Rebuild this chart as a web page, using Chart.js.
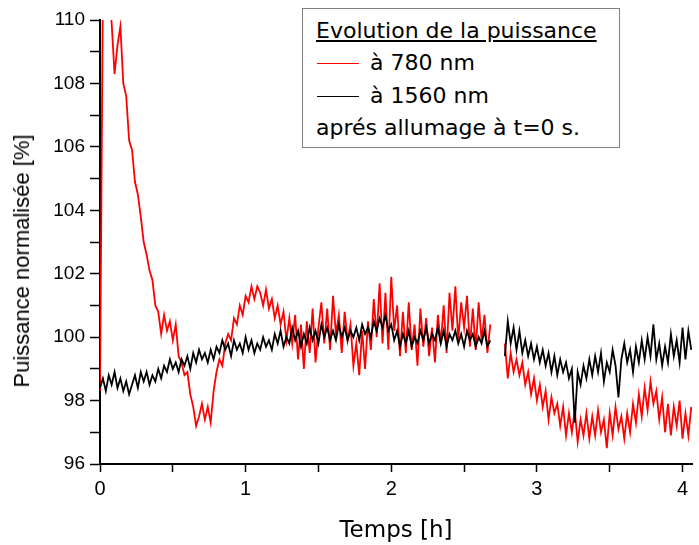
<!DOCTYPE html>
<html>
<head>
<meta charset="utf-8">
<script src="https://cdn.jsdelivr.net/npm/chart.js@4.4.1/dist/chart.umd.min.js"></script>
<style>
  body { margin: 0; background: #fff; }
  #wrap { position: relative; width: 699px; height: 545px; }
  #ytitle {
    position: absolute; left: 22px; top: 261px;
    transform: translate(-50%, -50%) rotate(-90deg);
    font: 22px "Liberation Sans", Arial, sans-serif; white-space: nowrap; color: #000;
  }
  #legendbox {
    position: absolute; left: 302px; top: 8px; width: 316px; height: 138px;
    border: 1px solid #808080; background: #fff;
    font: 22px "DejaVu Sans", sans-serif; color: #000;
  }
  #legendbox div { position: absolute; white-space: nowrap; }
  .swatch { position: absolute; left: 14px; width: 42px; height: 0; border-top: 1.5px solid; }
</style>
</head>
<body>
<div id="wrap">
  <canvas id="chart" width="699" height="545"></canvas>
  <div id="ytitle">Puissance normalisée [%]</div>
  <div id="legendbox">
    <div style="left:13px;top:9px;text-decoration:underline;">Evolution de la puissance</div>
    <span class="swatch" style="top:54px;border-color:#ff0000;"></span>
    <div style="left:67px;top:41px;">à 780 nm</div>
    <span class="swatch" style="top:87px;border-color:#000;"></span>
    <div style="left:67px;top:74px;">à 1560 nm</div>
    <div style="left:13px;top:106px;">aprés allumage à t=0 s.</div>
  </div>
</div>
<script>
// time in hours
var times = [
  0, 0.02, 0.04, 0.06, 0.08, 0.10, 0.12, 0.14, 0.16, 0.18,
  0.20, 0.22, 0.24, 0.26, 0.28, 0.30, 0.32, 0.34, 0.36, 0.38,
  0.40, 0.42, 0.44, 0.46, 0.48, 0.50, 0.52, 0.54, 0.56, 0.58,
  0.60, 0.62, 0.64, 0.66, 0.68, 0.70, 0.72, 0.74, 0.76, 0.78,
  0.80, 0.82, 0.84, 0.86, 0.88, 0.90, 0.92, 0.94, 0.96, 0.98,
  1.00, 1.02, 1.04, 1.06, 1.08, 1.10, 1.12, 1.14, 1.16, 1.18,
  1.20, 1.22, 1.24, 1.26, 1.28, 1.30, 1.32, 1.34, 1.36, 1.38,
  1.40, 1.42, 1.44, 1.46, 1.48, 1.50, 1.52, 1.54, 1.56, 1.58,
  1.60, 1.62, 1.64, 1.66, 1.68, 1.70, 1.72, 1.74, 1.76, 1.78,
  1.80, 1.82, 1.84, 1.86, 1.88, 1.90, 1.92, 1.94, 1.96, 1.98,
  2.00, 2.02, 2.04, 2.06, 2.08, 2.10, 2.12, 2.14, 2.16, 2.18,
  2.20, 2.22, 2.24, 2.26, 2.28, 2.30, 2.32, 2.34, 2.36, 2.38,
  2.40, 2.42, 2.44, 2.46, 2.48, 2.50, 2.52, 2.54, 2.56, 2.58,
  2.60, 2.62, 2.64, 2.66, 2.68, 2.70, 2.72, 2.74, 2.76, 2.78,
  2.80, 2.82, 2.84, 2.86, 2.88, 2.90, 2.92, 2.94, 2.96, 2.98,
  3.00, 3.02, 3.04, 3.06, 3.08, 3.10, 3.12, 3.14, 3.16, 3.18,
  3.20, 3.22, 3.24, 3.26, 3.28, 3.30, 3.32, 3.34, 3.36, 3.38,
  3.40, 3.42, 3.44, 3.46, 3.48, 3.50, 3.52, 3.54, 3.56, 3.58,
  3.60, 3.62, 3.64, 3.66, 3.68, 3.70, 3.72, 3.74, 3.76, 3.78,
  3.80, 3.82, 3.84, 3.86, 3.88, 3.90, 3.92, 3.94, 3.96, 3.98,
  4.00, 4.02, 4.04, 4.06
];

// puissance normalisée [%] at 780 nm
var p780 = [
  98.3, 111.0, 111.5, 110.8, 109.9, 108.3, 109.2, 109.8, 108.0, 107.6,
  106.2, 105.9, 104.9, 104.5, 103.8, 103.0, 102.6, 102.1, 101.8, 101.0,
  100.8, 100.1, 100.7, 100.2, 100.5, 99.9, 100.4, 99.4, 99.2, 98.8,
  98.9, 98.2, 97.8, 97.2, 97.5, 97.9, 97.4, 97.8, 97.3, 98.3,
  98.9, 99.3, 99.1, 99.8, 100.1, 99.9, 100.6, 100.4, 101.0, 100.7,
  101.3, 101.1, 101.6, 101.2, 101.6, 101.4, 101.0, 101.5, 100.9, 101.2,
  100.6, 101.0, 100.4, 100.8, 99.9, 100.6, 99.8, 100.7, 99.3, 100.4,
  99.0, 100.5, 99.5, 100.9, 99.2, 100.3, 101.1, 99.8, 100.9, 99.6,
  101.3, 100.1, 100.7, 99.5, 100.8, 99.9, 100.4, 99.1, 99.8, 98.8,
  100.2, 99.0, 100.5, 99.6, 101.2, 100.0, 101.7, 99.8, 101.4, 99.6,
  101.9, 100.2, 101.0, 99.4, 100.8, 99.5, 101.1, 99.6, 100.4, 99.1,
  100.9, 99.7, 100.6, 99.4, 100.3, 99.2, 100.7, 99.8, 101.0, 99.5,
  101.4, 100.2, 101.6, 99.9, 101.1, 100.3, 101.3, 99.7, 100.9, 99.6,
  101.1, 99.9, 100.7, 99.5, 100.4, null, null, null, null, 99.8,
  98.7, 99.5, 98.9, 99.3, 98.8, 99.2, 98.5, 98.9, 98.2, 98.7,
  98.0, 98.5, 97.8, 98.3, 97.4, 98.1, 97.6, 97.9, 97.2, 97.8,
  96.9, 97.6, 97.0, 97.7, 96.7, 97.4, 96.9, 97.6, 96.8, 97.5,
  96.9, 97.7, 97.0, 97.4, 96.5, 97.6, 96.9, 97.8, 97.1, 97.5,
  96.8, 97.6, 97.0, 97.9, 97.3, 98.2, 97.5, 98.4, 97.7, 98.6,
  97.9, 98.3, 97.4, 98.1, 97.0, 97.9, 96.9, 97.8, 97.2, 98.0,
  96.8, 97.6, 96.9, 97.8
];

// puissance normalisée [%] at 1560 nm
var p1560 = [
  98.4, 98.7, 98.3, 98.8, 98.5, 98.9, 98.4, 98.7, 98.3, 98.6,
  98.2, 98.5, 98.8, 98.4, 98.9, 98.6, 98.9, 98.5, 98.8, 98.6,
  99.0, 98.7, 99.1, 98.9, 99.3, 99.0, 99.2, 98.9, 99.3, 99.1,
  99.4, 99.0, 99.5, 99.2, 99.6, 99.3, 99.5, 99.2, 99.6, 99.3,
  99.7, 99.5, 99.9, 99.6, 99.8, 99.4, 99.9, 99.6, 99.8, 99.5,
  100.0, 99.6, 99.9, 99.5, 99.8, 99.6, 100.0, 99.7, 99.9, 99.6,
  100.1, 99.8, 100.2, 99.7, 100.0, 99.8, 100.3, 99.9, 100.2, 99.7,
  100.1, 99.8, 100.3, 99.9, 100.2, 99.8, 100.4, 100.0, 100.3, 99.9,
  100.2, 99.9, 100.4, 100.0, 100.3, 99.9, 100.2, 100.0, 100.3, 99.9,
  100.4, 100.1, 100.3, 100.0, 100.5, 100.2, 100.6, 100.3, 100.7, 100.2,
  100.4, 99.9, 100.2, 99.7, 100.1, 99.8, 100.2, 99.7, 100.0, 99.8,
  100.2, 99.9, 100.3, 99.8, 100.1, 99.9, 100.3, 99.8, 100.2, 99.7,
  100.1, 99.9, 100.2, 99.8, 100.1, 99.7, 100.2, 99.9, 100.1, 99.7,
  100.0, 99.8, 100.2, 99.7, 99.9, null, null, null, null, 99.4,
  100.5, 99.8, 100.3, 99.6, 100.2, 99.5, 99.9, 99.4, 99.8, 99.3,
  99.7, 99.2, 99.6, 99.1, 99.5, 98.9, 99.4, 98.8, 99.3, 98.9,
  99.2, 98.7, 99.0, 97.3, 98.9, 98.5, 99.1, 98.7, 99.3, 98.8,
  99.4, 98.9, 99.5, 98.6, 99.2, 98.9, 99.6, 99.1, 98.1, 99.3,
  99.8, 99.2, 99.6, 98.9, 99.7, 99.2, 99.9, 99.3, 100.0, 99.4,
  100.4, 99.3, 99.8, 99.1, 99.7, 99.2, 100.1, 99.4, 99.9, 99.2,
  100.3, 99.3, 100.2, 99.6
];

function pts(values) {
  return times.map(function (t, i) { return { x: t, y: values[i] }; });
}

var ctx = document.getElementById("chart").getContext("2d");
var myChart = new Chart(ctx, {
  type: "line",
  data: {
    datasets: [{
      label: "à 780 nm",
      data: pts(p780),
      borderColor: "#ff0000",
      borderWidth: 1.8,
      pointRadius: 0,
      tension: 0,
      spanGaps: false,
      order: 2
    }, {
      label: "à 1560 nm",
      data: pts(p1560),
      borderColor: "#000000",
      borderWidth: 1.8,
      pointRadius: 0,
      tension: 0,
      spanGaps: false,
      order: 1
    }]
  },
  options: {
    responsive: false,
    animation: false,
    devicePixelRatio: 1,
    layout: { padding: { top: 20, right: 7, left: 0, bottom: 0 } },
    plugins: { legend: { display: false }, tooltip: { enabled: false } },
    scales: {
      x: {
        type: "linear",
        min: 0,
        max: 4.065,
        border: { color: "#000", width: 2 },
        grid: { drawOnChartArea: false, color: "#000", tickLength: 8, tickWidth: 1.5 },
        ticks: {
          stepSize: 0.5,
          includeBounds: false,
          maxRotation: 0,
          autoSkip: false,
          padding: 5,
          color: "#000",
          font: { family: "'Liberation Sans', Arial, sans-serif", size: 20 },
          callback: function (v) { return v % 1 === 0 ? v : ""; }
        },
        title: {
          display: true,
          text: "Temps [h]",
          color: "#000",
          font: { family: "'DejaVu Sans', sans-serif", size: 23 },
          padding: { top: 0, bottom: 0 }
        },
        afterFit: function (scale) { scale.height = 81; }
      },
      y: {
        min: 96,
        max: 110,
        border: { color: "#000", width: 2 },
        grid: { drawOnChartArea: false, color: "#000", tickLength: 10, tickWidth: 1.5 },
        ticks: {
          stepSize: 1,
          autoSkip: false,
          padding: 5,
          color: "#000",
          font: { family: "'Liberation Sans', Arial, sans-serif", size: 19 },
          callback: function (v) { return v % 2 === 0 ? v : ""; }
        },
        afterFit: function (scale) { scale.width = 100; }
      }
    }
  }
});
</script>
</body>
</html>
